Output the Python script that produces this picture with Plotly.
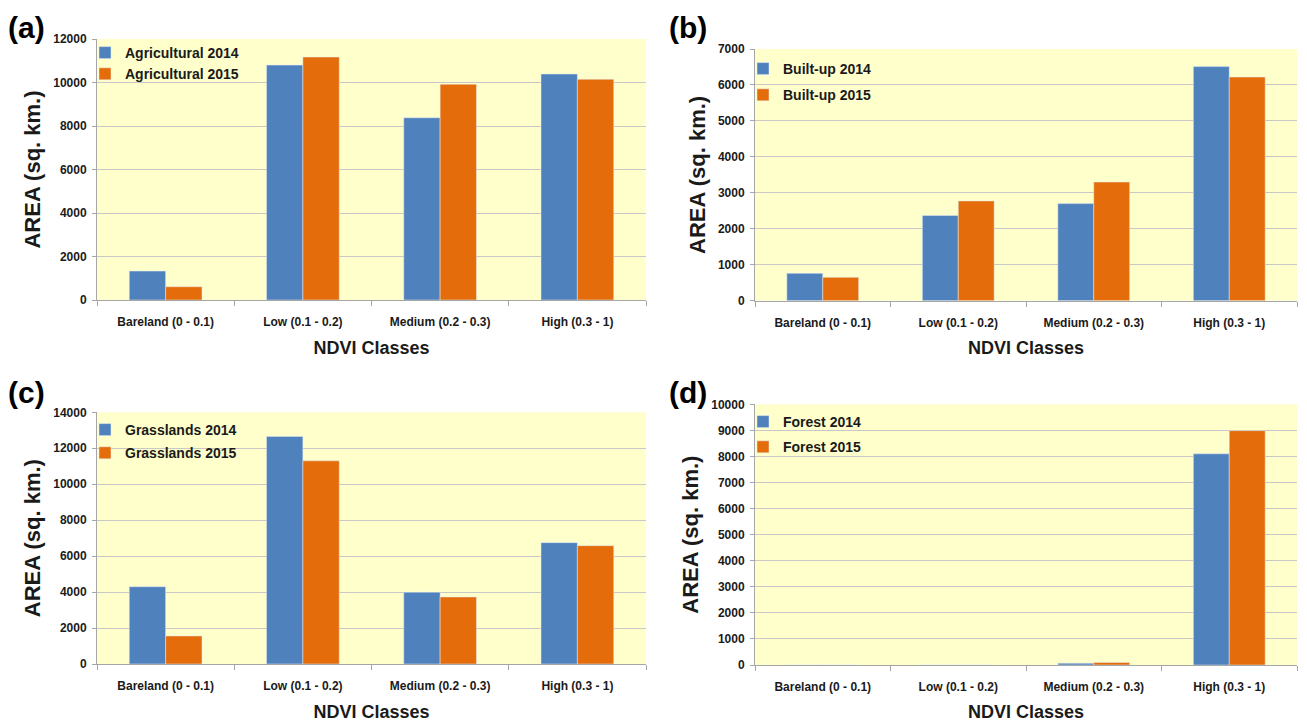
import plotly.graph_objects as go

categories = ["Bareland (0 - 0.1)", "Low (0.1 - 0.2)", "Medium (0.2 - 0.3)", "High (0.3 - 1)"]

agri_2014 = [1330, 10800, 8380, 10390]
agri_2015 = [610, 11170, 9920, 10150]

built_2014 = [760, 2370, 2700, 6510]
built_2015 = [650, 2775, 3300, 6220]

grass_2014 = [4300, 12660, 3990, 6750]
grass_2015 = [1560, 11300, 3730, 6580]

forest_2014 = [0, 0, 70, 8100]
forest_2015 = [0, 0, 95, 8990]

panels = [
    ("(a)", "Agricultural", agri_2014, agri_2015, 12000, 2000),
    ("(b)", "Built-up", built_2014, built_2015, 7000, 1000),
    ("(c)", "Grasslands", grass_2014, grass_2015, 14000, 2000),
    ("(d)", "Forest", forest_2014, forest_2015, 10000, 1000),
]

# the page body keeps its default 8px margin, so lay out in page pixels minus that offset
OFF = 8
W, H = 1307 - OFF, 722 - OFF

def px_x(v):
    return (v - OFF) / W

def px_y(v):
    return 1 - (v - OFF) / H

# plot-area page-pixel boxes (left, right, top, bottom)
boxes = [
    (97, 646, 39, 300),
    (755, 1297, 49, 300.7),
    (97, 646, 412.3, 664),
    (755, 1297, 404.3, 665),
]
label_pos = [(6, 27), (667, 27), (6, 392), (667, 392)]
legend_top = [37, 53, 414, 406]
legend_gap = [0, 5, 2, 4]

BLUE = "#4F81BD"
ORANGE = "#E46C0A"
SANS = "Liberation Sans, Arial, sans-serif"
TXT = "#1a1a1a"

fig = go.Figure()
layout = {}
for i, (lab, name, v14, v15, ymax, dtick) in enumerate(panels):
    n = "" if i == 0 else str(i + 1)
    xa, ya = "x" + n, "y" + n
    lg = "legend" if i == 0 else "legend" + str(i + 1)
    fig.add_trace(go.Bar(x=categories, y=v14, name=f"{name} 2014", marker_color=BLUE,
                         xaxis=xa, yaxis=ya, legend=lg, legendgroup=f"{name}14"))
    fig.add_trace(go.Bar(x=categories, y=v15, name=f"{name} 2015", marker_color=ORANGE,
                         xaxis=xa, yaxis=ya, legend=lg, legendgroup=f"{name}15"))
    l, r, t, b = boxes[i]
    layout["xaxis" + n] = dict(
        domain=[px_x(l), px_x(r)], anchor=ya, type="category", automargin=False,
        showline=True, linecolor="#A6A6A6", linewidth=1,
        ticks="outside", tickson="boundaries", ticklen=5, tickcolor="#A6A6A6",
        ticklabelstandoff=11,
        tickfont=dict(family=SANS, size=12, color=TXT, weight="bold"),
        title=dict(text="NDVI Classes", font=dict(family=SANS, size=18, color=TXT, weight="bold"), standoff=12),
        showgrid=False,
    )
    layout["yaxis" + n] = dict(
        domain=[px_y(b), px_y(t)], anchor=xa, range=[0, ymax], dtick=dtick,
        tickformat="d", automargin=False,
        showline=True, linecolor="#A6A6A6", linewidth=1,
        ticks="outside", ticklen=4, tickcolor="#A6A6A6",
        ticklabelstandoff=3,
        tickfont=dict(family=SANS, size=12, color=TXT, weight="bold"),
        showgrid=True, gridcolor="#C8C8C8", gridwidth=1, zeroline=False,
        title=dict(text="AREA (sq. km.)", font=dict(family=SANS, size=22, color=TXT, weight="bold"), standoff=6),
    )
    layout[lg] = dict(
        x=px_x(l - 12), y=px_y(legend_top[i]), xanchor="left", yanchor="top",
        bgcolor="rgba(0,0,0,0)", font=dict(family=SANS, size=14, color=TXT, weight="bold"),
        itemwidth=30, tracegroupgap=legend_gap[i], traceorder="grouped",
    )
    lx, ly = label_pos[i]
    fig.add_annotation(text=lab, x=px_x(lx), y=px_y(ly),
                       xref="paper", yref="paper", xanchor="left", yanchor="middle",
                       showarrow=False, font=dict(family=SANS, size=30, color="#000000", weight="bold"))

fig.update_layout(
    width=W, height=H, margin=dict(l=0, r=0, t=0, b=0),
    paper_bgcolor="white", plot_bgcolor="#FFFFCC",
    barmode="group", bargap=0.47, bargroupgap=0,
    showlegend=True,
    **layout,
)
fig.write_html("out.html")
